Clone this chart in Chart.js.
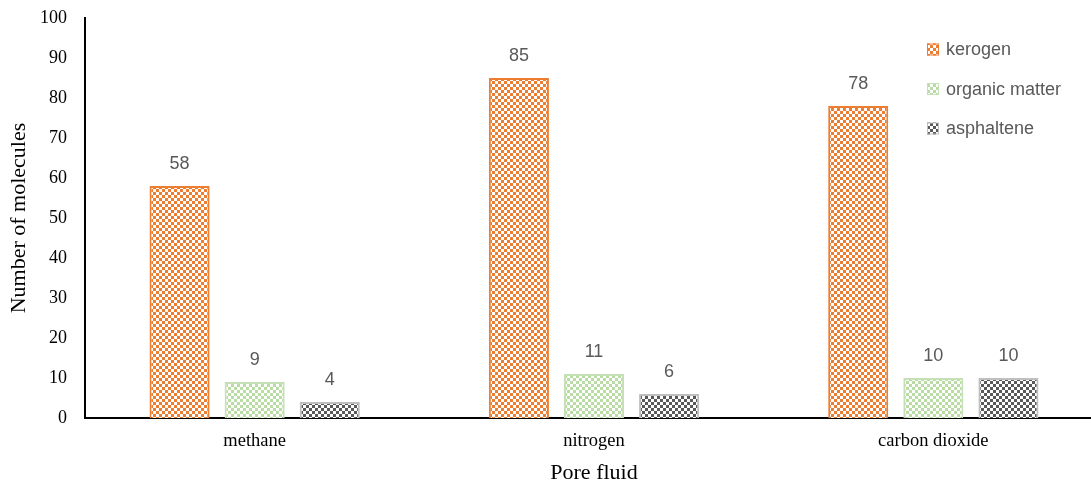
<!DOCTYPE html>
<html>
<head>
<meta charset="utf-8">
<script src="https://cdn.jsdelivr.net/npm/chart.js@4.4.1/dist/chart.umd.min.js"></script>
<style>
  html, body { margin: 0; padding: 0; background: #fff; overflow: hidden; }
  #wrap { width: 1091px; height: 486px; overflow: hidden; }
</style>
</head>
<body>
<div id="wrap"><canvas id="c" width="1103" height="486" style="width:1103px;height:486px;display:block"></canvas></div>
<script>
const categories = ['methane', 'nitrogen', 'carbon dioxide'];
const seriesNames = ['kerogen', 'organic matter', 'asphaltene'];
const kerogen = [58, 85, 78];
const organicMatter = [9, 11, 10];
const asphaltene = [4, 6, 10];
const yMin = 0, yMax = 100, yStep = 10;

function makePattern(fg, bg) {
  const t = document.createElement('canvas');
  t.width = 6; t.height = 6;
  const g = t.getContext('2d');
  g.fillStyle = fg; g.fillRect(0, 0, 6, 6);
  g.fillStyle = bg;
  g.fillRect(0, 0, 3, 3);
  g.fillRect(3, 3, 3, 3);
  return document.getElementById('c').getContext('2d').createPattern(t, 'repeat');
}

const styles = [
  { fill: makePattern('#ED7D31', '#ffffff'), border: '#ED7D31' },
  { fill: makePattern('#B9DCA4', '#ffffff'), border: '#C5E0B4' },
  { fill: makePattern('#595959', '#ffffff'), border: '#BFBFBF' }
];
const values = [kerogen, organicMatter, asphaltene];

const dataLabelPlugin = {
  id: 'dataLabels',
  afterDatasetsDraw(chart) {
    const ctx = chart.ctx;
    ctx.save();
    ctx.font = '18px "Liberation Sans", Arial, sans-serif';
    ctx.fillStyle = '#595959';
    ctx.textAlign = 'center';
    ctx.textBaseline = 'middle';
    chart.data.datasets.forEach((ds, i) => {
      chart.getDatasetMeta(i).data.forEach((el, j) => {
        ctx.fillText(String(ds.data[j]), el.x, el.y - 22);
      });
    });
    ctx.restore();
  }
};

const legendPlugin = {
  id: 'insideLegend',
  afterDraw(chart) {
    const ctx = chart.ctx;
    const x0 = 927, y0 = 49.5, gap = 39.5, box = 12;
    ctx.save();
    ctx.font = '18px "Liberation Sans", Arial, sans-serif';
    ctx.textBaseline = 'middle';
    ctx.textAlign = 'left';
    chart.data.datasets.forEach((ds, i) => {
      const y = y0 + i * gap;
      ctx.fillStyle = ds.backgroundColor;
      ctx.fillRect(x0, y - box / 2, box, box);
      ctx.strokeStyle = ds.borderColor;
      ctx.lineWidth = 1;
      ctx.strokeRect(x0 + 0.5, y - box / 2 + 0.5, box - 1, box - 1);
      ctx.fillStyle = '#595959';
      ctx.fillText(ds.label, x0 + 19, y + 1);
    });
    ctx.restore();
  }
};

const serif = '"Liberation Serif", "Times New Roman", serif';

new Chart(document.getElementById('c'), {
  type: 'bar',
  data: {
    labels: categories,
    datasets: seriesNames.map((name, i) => ({
      label: name,
      data: values[i],
      backgroundColor: styles[i].fill,
      borderColor: styles[i].border,
      borderWidth: 2,
      categoryPercentage: 0.664,
      barPercentage: 0.8
    }))
  },
  options: {
    responsive: false,
    animation: false,
    devicePixelRatio: 1,
    layout: { padding: { top: 18, right: 0, left: 0, bottom: 0 } },
    plugins: {
      legend: { display: false },
      tooltip: { enabled: false }
    },
    scales: {
      x: {
        grid: { display: false, drawTicks: false },
        border: { display: true, color: '#000', width: 2 },
        ticks: {
          color: '#000',
          font: { family: serif, size: 18.5 },
          padding: 12
        },
        title: {
          display: true,
          text: 'Pore fluid',
          color: '#000',
          font: { family: serif, size: 22 },
          padding: { top: 0, bottom: 0 }
        },
        afterFit(s) { s.height = 68; s.paddingLeft = 0; s.paddingRight = 0; }
      },
      y: {
        min: yMin,
        max: yMax,
        grid: { display: false, drawTicks: false },
        border: { display: true, color: '#000', width: 2 },
        ticks: {
          stepSize: yStep,
          color: '#000',
          font: { family: serif, size: 18 },
          padding: 18
        },
        title: {
          display: true,
          text: 'Number of molecules',
          color: '#000',
          font: { family: serif, size: 22 },
          padding: { top: 6, bottom: 0 }
        },
        afterFit(s) { s.width = 85; s.paddingTop = 0; s.paddingBottom = 0; }
      }
    }
  },
  plugins: [dataLabelPlugin, legendPlugin]
});
</script>
</body>
</html>
